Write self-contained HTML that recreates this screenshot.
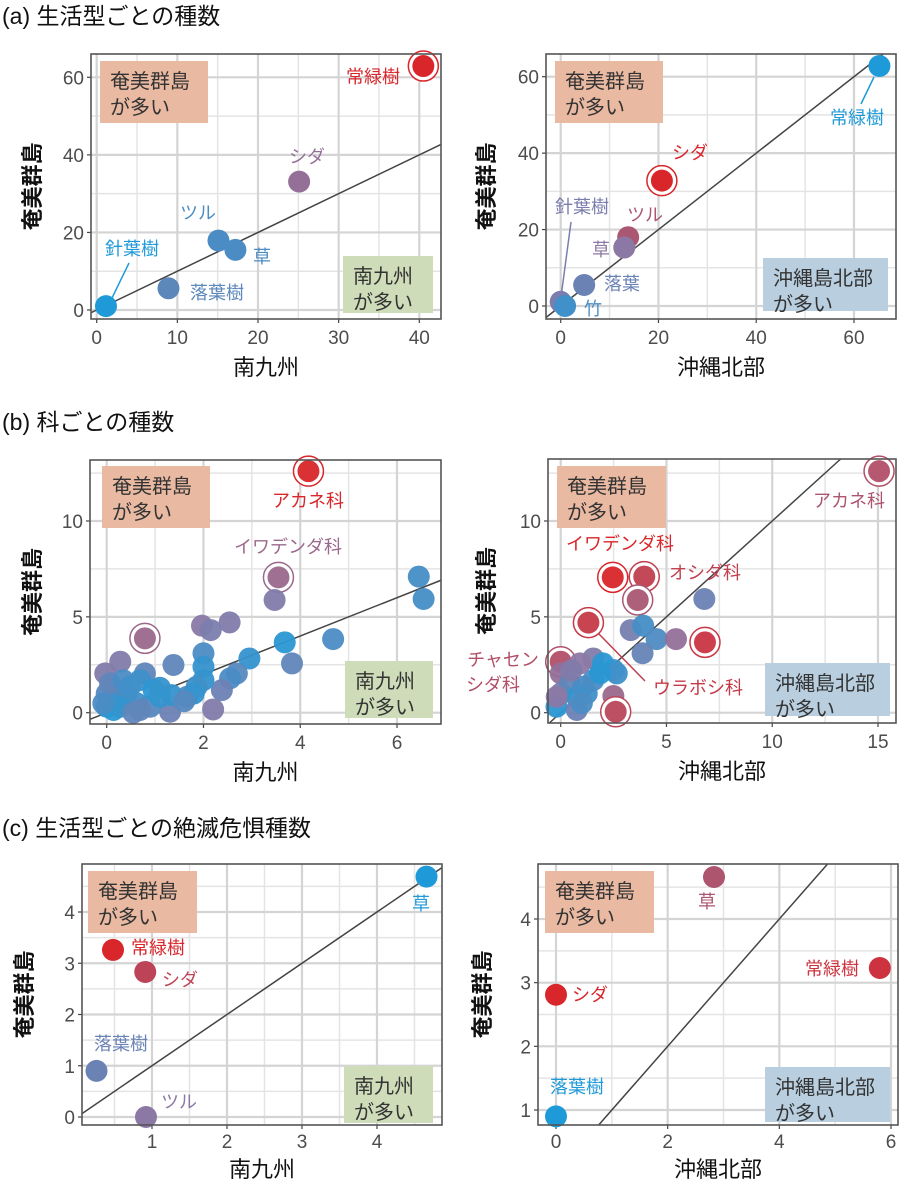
<!DOCTYPE html>
<html><head><meta charset="utf-8"><style>
html,body{margin:0;padding:0;background:#fff;overflow:hidden;width:900px;height:1196px;}
svg{display:block;font-family:"Liberation Sans","Noto Sans CJK JP",sans-serif;}
</style></head><body>
<svg id="chart" width="900" height="1196" viewBox="0 0 900 1196" xmlns="http://www.w3.org/2000/svg">
<text x="2" y="24" font-size="23" fill="#111">(a) 生活型ごとの種数</text>
<text x="2" y="430" font-size="23" fill="#111">(b) 科ごとの種数</text>
<text x="2" y="836" font-size="23" fill="#111">(c) 生活型ごとの絶滅危惧種数</text>
</svg>
<script>
// ---------- data ----------
const aLeftX=[40.5,25.1,15.1,17.2,8.9,1.15];
const aLeftY=[62.9,33.1,17.9,15.5,5.6,1.0];
const aLeftT=[1,0.55,0.2,0.2,0.28,0.0];
const aLeftRing=[1,0,0,0,0,0];
const aLeftLabels=["常緑樹","シダ","ツル","草","落葉樹","針葉樹"];

const aRightX=[65.2,20.7,13.8,13,4.8,0,0.9];
const aRightY=[62.8,32.8,18,15.3,5.5,1.1,0];
const aRightT=[0,1,0.7,0.5,0.35,0.42,0.15];
const aRightRing=[0,1,0,0,0,0,0];
const aRightLabels=["常緑樹","シダ","ツル","草","落葉","針葉樹","竹"];

const bLeftX=[4.17,3.55,3.47,6.45,6.55,4.68,3.68,3.83,2.95,2.54,1.97,2.15,0.79,2.0,2.0,1.38,2.69,2.55,2.38,2.2,2.0,1.86,1.66,1.31,1.34,0.28,-0.03,0.79,0.69,0,0,0.21,0.41,0.62,0.9,0.97,1.1,0.07,0.34,0.48,0.14,0.69,0.28,-0.07,1.8,1.6,1.1,0.55];
const bLeftY=[12.6,7.06,5.88,7.1,5.93,3.84,3.67,2.57,2.83,4.71,4.54,4.31,3.88,3.1,2.4,2.49,2.05,1.79,1.18,0.17,1.7,1.36,0.83,0.05,0.92,2.66,2.05,2.05,1.7,0.31,1.0,0.66,1.0,0.49,0.31,1.18,0.83,1.53,1.7,1.36,0.14,0.14,0.31,0.49,1.0,0.6,1.3,0.0];
const bLeftT=[1,0.6,0.45,0.18,0.18,0.2,0.05,0.3,0.1,0.45,0.48,0.42,0.6,0.2,0.1,0.3,0.25,0.2,0.35,0.45,0.1,0.15,0.25,0.35,0.1,0.45,0.45,0.3,0.15,0.1,0.25,0.12,0.2,0.15,0.25,0.05,0.1,0.3,0.2,0.15,0.05,0.3,0.1,0.2,0.1,0.25,0.1,0.3];
const bLeftRing=[1,1,0,0,0,0,0,0,0,0,0,0,1];
const bLeftLabels=["アカネ科","イワデンダ科"];

const bRightX=[15.05,2.46,3.95,3.64,6.79,1.31,3.31,3.9,4.53,5.45,3.87,6.82,0,1.54,0.91,2.49,2.0,2.65,2.49,2.6,0,0,-0.2,0.44,0.76,1.07,0.76,1.23,1.54,1.86,-0.19,0.5,1.0];
const bRightY=[12.6,7.06,7.1,5.88,5.93,4.7,4.31,4.54,3.84,3.84,3.1,3.67,2.66,2.83,2.57,2.23,2.57,2.05,0.87,0.05,2.05,1.0,0.31,1.53,0.83,1.36,0.14,1.0,1.7,2.05,0.83,2.2,0.5];
const bRightT=[0.75,1,0.85,0.7,0.35,0.88,0.4,0.18,0.22,0.55,0.32,0.9,0.75,0.45,0.5,0.15,0.05,0.15,0.6,0.8,0.55,0.4,0.05,0.3,0.1,0.2,0.35,0.15,0.2,0.05,0.5,0.45,0.2];
const bRightRing=[1,1,1,1,0,1,0,0,0,0,0,1,1,0,0,0,0,0,0,1];
const bRightLabels=["アカネ科","イワデンダ科","オシダ科","チャセン","シダ科","ウラボシ科"];

const cLeftX=[4.66,0.48,0.91,0.26,0.92];
const cLeftY=[4.69,3.26,2.83,0.9,0];
const cLeftT=[0,1,0.82,0.35,0.5];
const cLeftLabels=["草","常緑樹","シダ","落葉樹","ツル"];

const cRightX=[2.83,5.8,0,0];
const cRightY=[4.66,3.23,2.81,0.9];
const cRightT=[0.72,0.92,1,0];
const cRightLabels=["草","常緑樹","シダ","落葉樹"];

const aLeftXTicks=[0,10,20,30,40], aLeftYTicks=[0,20,40,60];
const aRightXTicks=[0,20,40,60], aRightYTicks=[0,20,40,60];
const bLeftXTicks=[0,2,4,6], bLeftYTicks=[0,5,10];
const bRightXTicks=[0,5,10,15], bRightYTicks=[0,5,10];
const cLeftXTicks=[1,2,3,4], cLeftYTicks=[0,1,2,3,4];
const cRightXTicks=[0,2,4,6], cRightYTicks=[1,2,3,4];

// ---------- helpers ----------
const NS="http://www.w3.org/2000/svg";
const svg=document.getElementById('chart');
function mk(tag,attrs,parent){const e=document.createElementNS(NS,tag);for(const k in attrs)e.setAttribute(k,attrs[k]);(parent||svg).appendChild(e);return e;}
function col(t){
  const s=[[31,154,216],[140,120,165],[216,38,42]];
  let a,b,u; if(t<=0.5){a=s[0];b=s[1];u=t/0.5;}else{a=s[1];b=s[2];u=(t-0.5)/0.5;}
  return 'rgb('+a.map((v,i)=>Math.round(v+(b[i]-v)*u)).join(',')+')';
}
function lin(d0,p0,d1,p1){return v=>p0+(v-d0)*(p1-p0)/(d1-d0);}

function panel(c){
  const g=mk('g',{});
  
  
  const X=lin(c.xs[0],c.xs[1],c.xs[2],c.xs[3]), Y=lin(c.ys[0],c.ys[1],c.ys[2],c.ys[3]);
  const Xi=lin(c.xs[1],c.xs[0],c.xs[3],c.xs[2]), Yi=lin(c.ys[1],c.ys[0],c.ys[3],c.ys[2]);
  const tickOff=c.tickOff||25, titleOff=c.titleOff||56;
  const xstep=c.xt[1]-c.xt[0], ystep=c.yt[1]-c.yt[0];
  for(let v=c.xt[0]-xstep/2; X(v)<c.r; v+=xstep){ if(X(v)>c.l){const ln=mk('line',{x1:X(v),x2:X(v),y1:c.t,y2:c.b,stroke:'#e4e4e4','stroke-width':1.5},g);}}
  for(let v=c.yt[0]-ystep/2; Y(v)>c.t; v+=ystep){ if(Y(v)<c.b){const ln=mk('line',{x1:c.l,x2:c.r,y1:Y(v),y2:Y(v),stroke:'#e4e4e4','stroke-width':1.5},g);}}
  c.xt.forEach(v=>{
    const ln=mk('line',{x1:X(v),x2:X(v),y1:c.t,y2:c.b,stroke:'#d4d4d4','stroke-width':2.2},g);
    
    mk('line',{x1:X(v),x2:X(v),y1:c.b,y2:c.b+4,stroke:'#444','stroke-width':1.2},g);
    const t=mk('text',{x:X(v),y:c.b+tickOff,'font-size':19,fill:'#4d4d4d','text-anchor':'middle'},g);t.textContent=v;
    
  });
  c.yt.forEach(v=>{
    const ln=mk('line',{x1:c.l,x2:c.r,y1:Y(v),y2:Y(v),stroke:'#d4d4d4','stroke-width':2.2},g);
    
    mk('line',{x1:c.l-4,x2:c.l,y1:Y(v),y2:Y(v),stroke:'#444','stroke-width':1.2},g);
    const t=mk('text',{x:c.l-7,y:Y(v)+7,'font-size':19,fill:'#4d4d4d','text-anchor':'end'},g);t.textContent=v;
    
  });
  c.boxes.forEach(bx=>{
    const r=mk('rect',{x:bx[0],y:bx[1],width:bx[2]-bx[0],height:bx[3]-bx[1],fill:bx[4]},g);
    
    const t1=mk('text',{x:bx[0]+10,y:bx[1]+27,'font-size':20,fill:'#333'},g);t1.textContent=bx[5];
    
    const t2=mk('text',{x:bx[0]+10,y:bx[1]+53,'font-size':20,fill:'#333'},g);t2.textContent='が多い';
    
  });
  // identity line y=x, clipped analytically to frame
  const dxmin=Xi(c.l), dxmax=Xi(c.r), dymin=Yi(c.b), dymax=Yi(c.t);
  const lo=Math.max(dxmin,dymin), hi=Math.min(dxmax,dymax);
  const dl=mk('line',{x1:X(lo),y1:Y(lo),x2:X(hi),y2:Y(hi),stroke:'#444','stroke-width':1.5},g);
  
  (c.leaders||[]).forEach(L=>{const ln=mk('line',{x1:L[0],y1:L[1],x2:L[2],y2:L[3],stroke:L[4],'stroke-width':1.5},g);});
  c.px.forEach((xv,i)=>{
    const cx=X(xv), cy=Y(c.py[i]), fill=col(c.pt[i]);
    if(c.ring && c.ring[i]){
      const rg=mk('circle',{cx:cx,cy:cy,r:c.rad+4,fill:'#fff',stroke:fill,'stroke-width':1.5},g);
      
    }
    const p=mk('circle',{cx:cx,cy:cy,r:c.rad,fill:fill,'fill-opacity':c.op||1},g);
    
  });
  c.labels.forEach((lb,i)=>{
    const L=c.lpos[i];
    const t=mk('text',{x:L[0],y:L[1]+6,'font-size':18,fill:L[2]!==undefined?col(L[2]):col(c.pt[i]),'text-anchor':L[3]||'middle'},g);t.textContent=lb;
    
  });
  const fr=mk('rect',{x:c.l,y:c.t,width:c.r-c.l,height:c.b-c.t,fill:'none',stroke:'#555','stroke-width':1.6},g);
  
  const xt=mk('text',{x:(c.l+c.r)/2,y:c.b+titleOff,'font-size':22,fill:'#111','text-anchor':'middle'},g);xt.textContent=c.xtitle;
  
  const ym=(c.t+c.b)/2;
  const yt=mk('text',{x:c.ytx,y:ym,'font-size':22,fill:'#111','font-weight':'bold','text-anchor':'middle',transform:'rotate(-90 '+c.ytx+' '+ym+')'},g);yt.textContent='奄美群島';
  
}
const OR='#e9b9a2', GR='#cfdcb9', BL='#b9cfe0';

panel({name:'panel-a-left',l:91,r:441,t:54,b:319,xs:[0,96.7,40,419.3],ys:[0,310,60,77.3],xt:aLeftXTicks,yt:aLeftYTicks,
 px:aLeftX,py:aLeftY,pt:aLeftT,ring:aLeftRing,rad:11,labels:aLeftLabels,
 lpos:[[373,77],[307,157],[198,213],[262,257],[217,293],[132,249]],
 leaders:[[129,263,112,298,col(0)]],
 boxes:[[100,61,208,123,OR,'奄美群島'],[343,256,433,313,GR,'南九州']],xtitle:'南九州',ytx:40});
panel({name:'panel-a-right',l:546,r:896,t:54,b:319,xs:[0,560.7,60,854],ys:[0,306,60,76.7],xt:aRightXTicks,yt:aRightYTicks,
 px:aRightX,py:aRightY,pt:aRightT,ring:aRightRing,rad:11,labels:aRightLabels,
 lpos:[[857,118],[690,153],[645,215],[601,250],[622,284],[582,207],[593,309,0.2]],
 leaders:[[874,77,861,104,col(0)],[571,222,561,297,col(0.42)]],
 boxes:[[555,61,663,123,OR,'奄美群島'],[763,258,888,311,BL,'沖縄島北部']],xtitle:'沖縄北部',ytx:494});
panel({name:'panel-b-left',l:90,r:441,t:460,b:724,xs:[0,106.7,6,397],ys:[0,712.7,10,521],xt:bLeftXTicks,yt:bLeftYTicks,
 px:bLeftX,py:bLeftY,pt:bLeftT,ring:bLeftRing,rad:11,op:0.95,labels:bLeftLabels,
 lpos:[[308,501],[288,547]],
 boxes:[[102,466,210,528,OR,'奄美群島'],[345,661,433,718,GR,'南九州']],xtitle:'南九州',ytx:40});
panel({name:'panel-b-right',l:548,r:896,t:459,b:723,xs:[0,560.7,15,878],ys:[0,712.7,10,521],xt:bRightXTicks,yt:bRightYTicks,
 px:bRightX,py:bRightY,pt:bRightT,ring:bRightRing,rad:11,op:0.95,labels:bRightLabels,
 lpos:[[849,501,0.72],[620,544,1],[705,573,0.85],[503,660,0.75],[493,685,0.75],[698,688,0.88]],
 leaders:[[598,633,645,681,col(0.85)]],
 boxes:[[557,466,666,528,OR,'奄美群島'],[765,663,890,716,BL,'沖縄島北部']],xtitle:'沖縄北部',ytx:494});
panel({name:'panel-c-left',l:82,r:442,t:864,b:1125,tickOff:23,titleOff:52,xs:[1,152,4,377],ys:[0,1117,4,912],xt:cLeftXTicks,yt:cLeftYTicks,
 px:cLeftX,py:cLeftY,pt:cLeftT,rad:11,labels:cLeftLabels,
 lpos:[[421,904],[158,948],[180,980],[121,1044],[179,1102]],
 boxes:[[88,871,197,933,OR,'奄美群島'],[344,1066,433,1123,GR,'南九州']],xtitle:'南九州',ytx:32});
panel({name:'panel-c-right',l:538,r:898,t:864,b:1125,tickOff:23,titleOff:52,xs:[0,556,6,891],ys:[1,1110,4,919],xt:cRightXTicks,yt:cRightYTicks,
 px:cRightX,py:cRightY,pt:cRightT,rad:11,labels:cRightLabels,
 lpos:[[707,902],[832,969],[590,995],[577,1087]],
 boxes:[[545,871,654,933,OR,'奄美群島'],[765,1067,890,1122,BL,'沖縄島北部']],xtitle:'沖縄北部',ytx:490});
</script>
</body></html>
